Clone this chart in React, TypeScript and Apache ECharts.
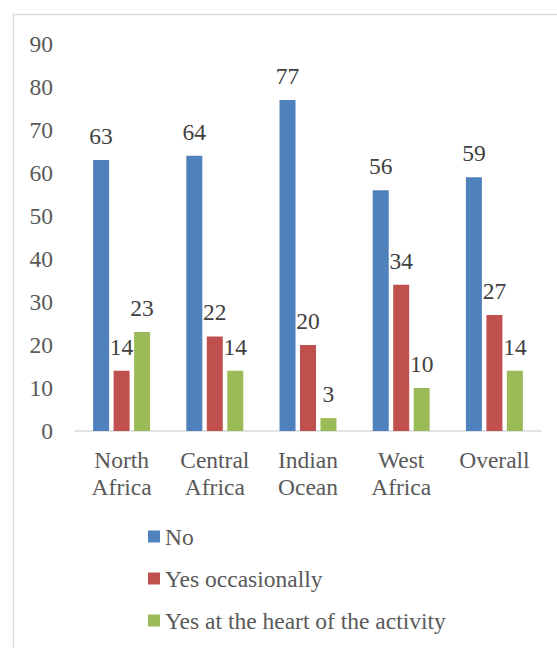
import React, { useEffect, useRef } from "react";
import * as echarts from "echarts";

const categories = ["North Africa", "Central Africa", "Indian Ocean", "West Africa", "Overall"];
const seriesNames = ["No", "Yes occasionally", "Yes at the heart of the activity"];
const noValues = [63, 64, 77, 56, 59];
const occasionalValues = [14, 22, 20, 34, 27];
const heartValues = [23, 14, 3, 10, 14];
const colors = ["#4f81bd", "#c0504d", "#9bbb59"];

export default function App() {
  const ref = useRef<HTMLDivElement>(null);
  useEffect(() => {
    document.body.style.margin = "0";
    const chart = echarts.init(ref.current!, undefined, { renderer: "svg" });
    const font = "Times New Roman, Liberation Serif, serif";
    const fs = 23.5;
    const mk = (name: string, data: number[], color: string) => ({
      name,
      type: "bar",
      data,
      barWidth: 16,
      barGap: "28%",
      itemStyle: { color },
      label: {
        show: true,
        position: "top",
        distance: 12,
        fontFamily: font,
        fontSize: fs,
        color: "#404040",
      },
    });
    chart.setOption({
      animation: false,
      backgroundColor: "#ffffff",
      textStyle: { fontFamily: font },
      graphic: [
        {
          type: "rect",
          shape: { x: 13.5, y: 14.5, width: 600, height: 700 },
          style: { fill: "none", stroke: "#d9d9d9", lineWidth: 1.5 },
          silent: true,
        },
      ],
      grid: { left: 75, right: 16, top: 44, bottom: 217, containLabel: false },
      xAxis: {
        type: "category",
        data: categories,
        axisLine: { show: true, lineStyle: { color: "#d9d9d9", width: 1.5 } },
        axisTick: { show: false },
        axisLabel: {
          interval: 0,
          margin: 15,
          fontFamily: font,
          fontSize: fs,
          lineHeight: 27,
          color: "#595959",
          formatter: (v: string) => v.replace(" ", "\n"),
        },
      },
      yAxis: {
        type: "value",
        min: 0,
        max: 90,
        interval: 10,
        splitLine: { show: false },
        axisLine: { show: false },
        axisTick: { show: false },
        axisLabel: { margin: 22, fontFamily: font, fontSize: fs, color: "#595959" },
      },
      legend: {
        orient: "vertical",
        left: 143,
        top: 518,
        itemWidth: 12,
        itemHeight: 12,
        itemGap: 15,
        icon: "rect",
        textStyle: { fontFamily: font, fontSize: fs, lineHeight: 27, color: "#595959" },
        data: seriesNames,
      },
      series: [
        mk(seriesNames[0], noValues, colors[0]),
        mk(seriesNames[1], occasionalValues, colors[1]),
        mk(seriesNames[2], heartValues, colors[2]),
      ],
    });
    return () => chart.dispose();
  }, []);
  return <div ref={ref} style={{ width: 557, height: 648 }} />;
}
